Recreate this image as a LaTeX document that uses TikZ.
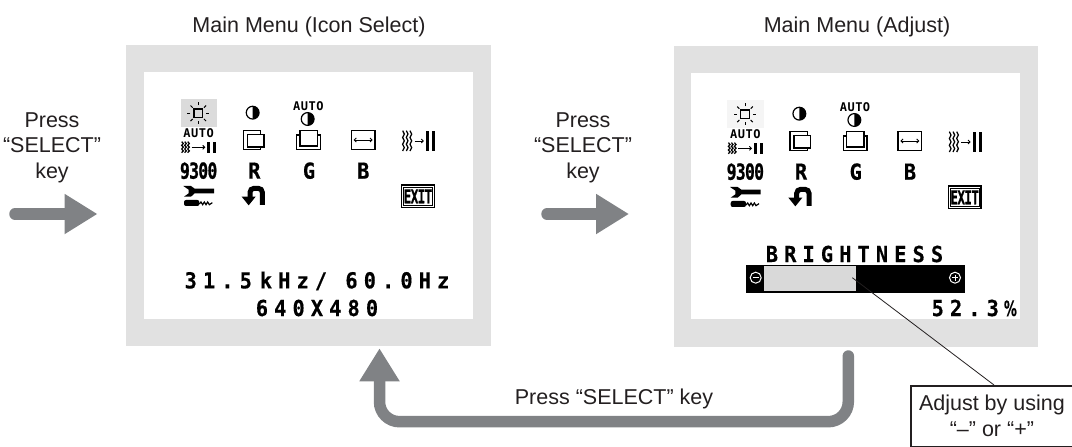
\documentclass[tikz,border=0pt]{standalone}
\usepackage{fontspec}
\usetikzlibrary{arrows.meta}
\setmainfont{Liberation Sans}
\newfontfamily\osdwide[FakeStretch=.92,LetterSpace=28,BoldFeatures={FakeBold=.5}]{DejaVu Sans Mono}
\newfontfamily\osdplain[FakeStretch=.92,BoldFeatures={FakeBold=.5}]{DejaVu Sans Mono}
\newfontfamily\osdtight[FakeStretch=.74,LetterSpace=-3,BoldFeatures={FakeBold=1}]{DejaVu Sans Mono}
\newfontfamily\osdexit[FakeStretch=.66,LetterSpace=-3,BoldFeatures={FakeBold=.7}]{DejaVu Sans Mono}
\newfontfamily\osdsmall[LetterSpace=4]{DejaVu Sans Mono}
\newfontfamily\osdpct[FakeStretch=.62,BoldFeatures={FakeBold=.3}]{DejaVu Sans}
\definecolor{framegray}{HTML}{E1E1E1}
\definecolor{arrowgray}{HTML}{808285}
\definecolor{inkdark}{HTML}{231F20}
\tikzset{
  frame/.style={fill=framegray,draw=none,inner sep=0pt,outer sep=0pt,anchor=north west},
  screen/.style={fill=white,draw=none,inner sep=0pt,outer sep=0pt,anchor=north west},
  caption/.style={text=inkdark,font=\fontsize{21.5}{25.5}\selectfont,inner sep=0pt,align=center},
  bigarrow/.style={draw=arrowgray,line width=11.5pt,line cap=round,-{Triangle[width=38pt,length=33pt,fill=arrowgray]}},
  osdw/.style={font=\osdwide\bfseries\fontsize{22}{22}\selectfont,inner sep=0pt,text=black},
  osdp/.style={font=\osdplain\bfseries\fontsize{22}{22}\selectfont,inner sep=0pt,text=black},
  osdt/.style={font=\osdtight\bfseries\fontsize{22}{22}\selectfont,inner sep=0pt,text=black},
  osdx/.style={font=\osdexit\bfseries\fontsize{19}{19}\selectfont,inner sep=0pt,text=black},
  osds/.style={font=\osdsmall\bfseries\fontsize{12}{12}\selectfont,inner sep=0pt,text=black},
  ico/.style={line width=1.2pt,draw=black},
  thinico/.style={line width=.9pt,draw=black},
}
\newcommand{\halfdisc}[1]{%
  \draw[ico,fill=white] (#1) circle[radius=6.4pt];
  \fill (#1) ++(0pt,6.4pt) arc[start angle=90,end angle=-90,radius=6.4pt] -- cycle;}
\newcommand{\wavecol}[3]{% x, top, bottom
  \pgfmathsetmacro{\wstep}{(#3-#2)/6}
  \draw[line width=1.25pt,black] (#1,#2)
    -- ++(5,\wstep) -- ++(-5,\wstep) -- ++(5,\wstep) -- ++(-5,\wstep) -- ++(5,\wstep) -- ++(-5,\wstep);}
\newcommand{\osdicons}[3]{% prefix, highlight colour, origin
\begin{scope}[shift={#3},x=.33333pt,y=-.33333pt]
  \fill[#2] (62,58) rectangle (172,140);
  % sun
  \draw[ico] (102,87) rectangle (128,113);
  \foreach \a in {0,45,...,315}{\draw[line width=1pt,black] (115,100) ++(\a:8pt) -- ++(\a:3pt);}
  % contrast
  \halfdisc{278,98}
  \node[osds] (#1autoA) at (445,77) {AUTO};
  \halfdisc{443,117}
  % auto degauss
  \node[osds] (#1autoB) at (116,160) {AUTO};
  \wavecol{65}{185}{218}\wavecol{74}{185}{218}\wavecol{83}{185}{218}
  \draw[thinico,-{Straight Barb[length=2pt,width=4pt]}] (95,202) -- (136,202);
  \fill (142,185) rectangle (151,218);
  \fill (160,185) rectangle (169,218);
  % position/size
  \draw[ico] (250,152) rectangle (302,209);
  \draw[ico,fill=white] (262,163) rectangle (312,201);
  \draw[ico] (420,152) rectangle (472,198);
  \draw[ico] (420,165) -- (410,165) -- (410,209) -- (481,209) -- (481,165) -- (472,165);
  \draw[ico] (574,152) rectangle (645,208);
  \draw[thinico,{Straight Barb[length=2pt,width=4pt]}-{Straight Barb[length=2pt,width=4pt]}] (581,180) -- (638,180);
  \wavecol{728}{152}{213}\wavecol{739}{152}{213}\wavecol{750}{152}{213}
  \draw[thinico,-{Straight Barb[length=2pt,width=4pt]}] (764,183) -- (792,183);
  \fill (798,152) rectangle (807,213);
  \fill (816,152) rectangle (825,213);
  % row 3
  \node[osdt] (#1temp) at (116,272) {9300};
  \node[osdp] (#1r) at (283,272) {R};
  \node[osdp] (#1g) at (447,272) {G};
  \node[osdp] (#1b) at (610,272) {B};
  % wrench
  \fill (70,318) -- (93,318) -- (104,326) -- (162,326) -- (162,340) -- (104,340) -- (93,350) -- (72,350) -- (86,340) -- (86,329) -- cycle;
  \fill[rounded corners=2pt] (72,360) rectangle (118,378);
  \draw[line width=1.2pt,black] (118,372) -- (123,366) -- (128,374) -- (133,366) -- (138,374) -- (143,366) -- (148,374) -- (157,368);
  % return
  \draw[line width=5pt,black,rounded corners=4pt] (307,375) -- (307,325) -- (270,325) -- (270,352);
  \fill (245,350) -- (287,350) -- (266,376) -- cycle;
  % exit
  \draw[ico] (725,315) rectangle (823,382);
  \draw[thinico] (731,321) rectangle (817,376);
  \node[osdx] (#1exit) at (774,349) {EXIT};
\end{scope}}
\begin{document}
\begin{tikzpicture}[x=1pt,y=-1pt]
\useasboundingbox (0,0) rectangle (1072,447);
% panels
\node[frame,minimum width=365pt,minimum height=301pt] (leftframe) at (126,45) {};
\node[screen,minimum width=329pt,minimum height=247pt] (leftscreen) at (144,72) {};
\node[frame,minimum width=364pt,minimum height=301pt] (rightframe) at (674,46) {};
\node[screen,minimum width=329pt,minimum height=246pt] (rightscreen) at (691,73) {};
% captions
\node[caption] (lefttitle) at (309,27) {Main Menu (Icon Select)};
\node[caption] (righttitle) at (857,27) {Main Menu (Adjust)};
\node[caption,anchor=north] (press1) at (52,112.5) {Press\\“SELECT”\\key};
\node[caption,anchor=north] (press2) at (583,112.5) {Press\\“SELECT”\\key};
\node[caption] (press3) at (614,399) {Press “SELECT” key};
% icons
\osdicons{l}{black!14}{(160pt,-80pt)}
\osdicons{r}{black!4}{(706.7pt,-81pt)}
% left screen texts
\node[osdw] (freq) at (317,281) {31.5\hspace{8pt}kHz/ 60.0Hz};
\node[osdw] (res) at (317,308) {640X480};
% right screen
\node[osdw] (brt) at (854.5,254) {BRIGHTNESS};
\node[fill=black,draw=none,inner sep=0pt,anchor=north west,minimum width=219.5pt,minimum height=28pt] (bar) at (745.6,264.3) {};
\node[fill=black!15,draw=none,inner sep=0pt,anchor=north west,minimum width=92pt,minimum height=25pt] (level) at (764,266) {};
\draw[white,line width=1pt] (755.7,277.7) circle[radius=5.5pt];
\draw[white,line width=1pt] (752.7,277.7) -- (758.7,277.7);
\draw[white,line width=1pt] (955,277.7) circle[radius=5.5pt];
\draw[white,line width=1pt] (952,277.7) -- (958,277.7) (955,274.7) -- (955,280.7);
\node[osdw] (pct) at (974.3,308) {52.3\hspace{5pt}{\osdpct\bfseries\fontsize{21}{21}\selectfont\%}};
% callout
\node[draw=inkdark,line width=1.8pt,fill=white,inner sep=0pt,anchor=north west,minimum width=162pt,minimum height=60.5pt,text=inkdark,font=\fontsize{21.5}{26}\selectfont,align=center] (callout) at (910,385) {Adjust by using\\“–” or “+”};
\coordinate (leadstart) at (852.3,277.7);
\coordinate (leadend) at (994,385);
\draw[inkdark,line width=.8pt] (leadstart) -- (leadend);
% arrows
\coordinate (a1s) at (15,214);
\coordinate (a1e) at (97.5,214);
\coordinate (a2s) at (547,214);
\coordinate (a2e) at (629,214);
\draw[bigarrow] (a1s) -- (a1e);
\draw[bigarrow] (a2s) -- (a2e);
\coordinate (rs) at (848.3,356);
\coordinate (rc1) at (848.3,421.7);
\coordinate (rc2) at (379.5,421.7);
\coordinate (re) at (379.5,348.3);
\draw[bigarrow,rounded corners=20pt] (rs) -- (rc1) -- (rc2) -- (re);
\end{tikzpicture}
\end{document}
